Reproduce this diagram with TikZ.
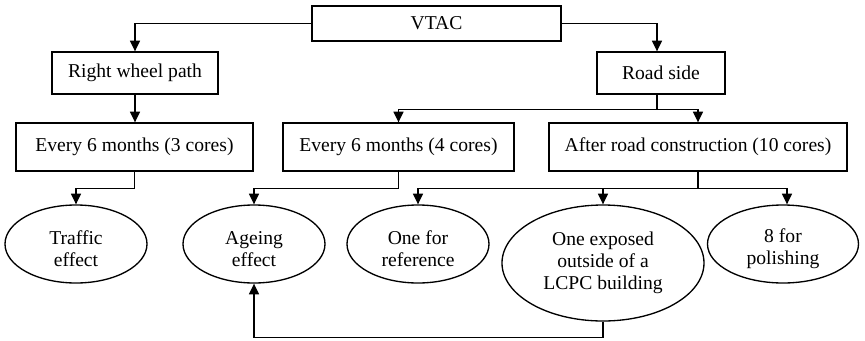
\documentclass[tikz,border=0pt]{standalone}
\usepackage{fontspec}
\setmainfont{Liberation Serif}
\usetikzlibrary{shapes.geometric,arrows.meta,calc}
\newcommand{\lowstrut}{\rule{0pt}{17pt}}
\begin{document}
\begin{tikzpicture}[x=0.75pt,y=-0.75pt,
  font=\fontsize{14.7}{16.5}\selectfont,
  line width=1pt,
  boxnode/.style={draw,rectangle,inner sep=0pt,align=center},
  ovalnode/.style={draw,ellipse,inner sep=0pt,align=center},
  conn/.style={-{Triangle[length=8pt,width=7.5pt]},line width=1pt},
  line/.style={line width=1pt}]
\useasboundingbox (0,0) rectangle (865,340);

\node[boxnode,minimum width=186.75pt,minimum height=26.25pt] (vtac) at (436.5,23.5) {VTAC};
\node[boxnode,minimum width=124.5pt,minimum height=31.5pt] (rwp) at (135,73) {Right wheel path};
\node[boxnode,minimum width=96pt,minimum height=31.5pt] (rs) at (661,73) {Road side};
\node[boxnode,minimum width=177.75pt,minimum height=36pt] (e3) at (134.5,147) {Every 6 months (3 cores)};
\node[boxnode,minimum width=173.25pt,minimum height=36pt] (e4) at (398.5,147) {Every 6 months (4 cores)};
\node[boxnode,minimum width=223.5pt,minimum height=36pt] (arc) at (698,147) {After road construction (10 cores)};

\node[ovalnode,minimum width=106.5pt,minimum height=58.5pt] (te) at (76,244) {\lowstrut Traffic\\effect};
\node[ovalnode,minimum width=106.5pt,minimum height=58.5pt] (ae) at (254,244) {\lowstrut Ageing\\effect};
\node[ovalnode,minimum width=106.5pt,minimum height=58.5pt] (or) at (418,244) {\lowstrut One for\\reference};
\node[ovalnode,minimum width=151.5pt,minimum height=87pt] (oe) at (603,263) {One exposed\\outside of a\\LCPC building};
\node[ovalnode,minimum width=113.25pt,minimum height=58.5pt] (po) at (783,244) {\lowstrut 8 for\\polishing};

\coordinate (rsj) at ($(rs.south)+(-4,15)$);
\coordinate (e3j) at ($(e3.south)+(0,17)$);
\coordinate (e4j) at ($(e4.south)+(0,17)$);
\coordinate (arcj) at ($(arc.south)+(0,17)$);
\coordinate (oej) at ($(oe.south)+(0,16)$);

\draw[conn] (vtac.west) -| (rwp.north);
\draw[conn] (vtac.east) -| ($(rs.north)+(-4,0)$);
\draw[conn] (rwp.south) -- (rwp.south |- e3.north);
\draw[line] ($(rs.south)+(-4,0)$) -- (rsj);
\draw[conn] (rsj) -| (e4.north);
\draw[conn] (rsj) -| (arc.north);
\draw[conn] (e3.south) -- (e3j) -| (te.north);
\draw[conn] (e4.south) -- (e4j) -| (ae.north);
\draw[line] (arc.south) -- (arcj);
\draw[conn] (arcj) -| (or.north);
\draw[conn] (arcj) -| (oe.north);
\draw[conn] (arcj) -| ($(po.north)+(4,0)$);
\draw[conn] (oe.south) -- (oej) -| (ae.south);
\end{tikzpicture}
\end{document}
